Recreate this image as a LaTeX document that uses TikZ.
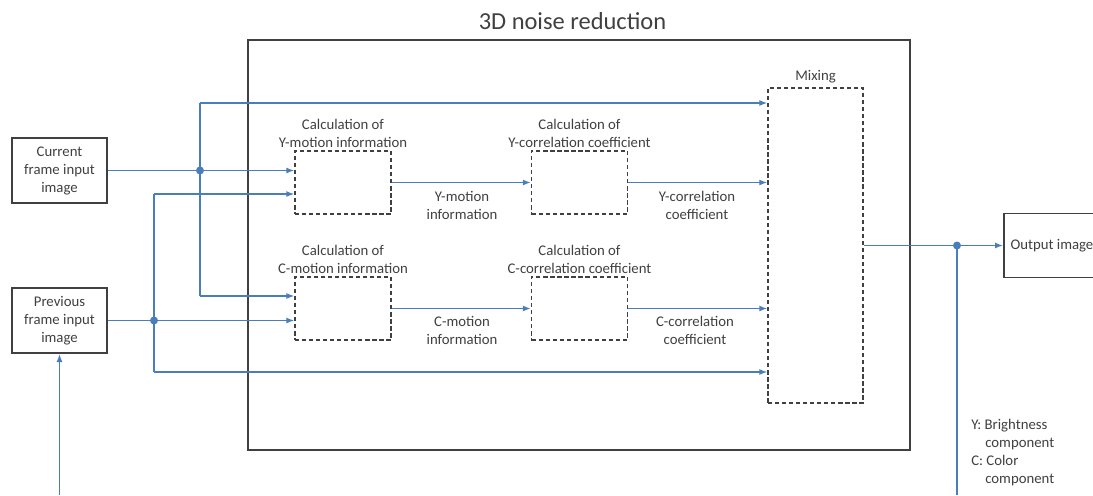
\documentclass[tikz,border=0pt]{standalone}
\usepackage{fontspec}
\setmainfont{Carlito}
\usetikzlibrary{arrows.meta,positioning}
\definecolor{lineblue}{RGB}{74,126,187}
\definecolor{boxgray}{RGB}{64,64,64}

\begin{document}
\begin{tikzpicture}[x=0.025cm, y=-0.025cm,
      every node/.style={text=boxgray, font=\fontsize{10.5}{12.8}\selectfont},
      inbox/.style={draw=boxgray, line width=1.4pt, minimum width=2.375cm, minimum height=1.625cm, align=center, inner sep=0pt},
      calcbox/.style={draw=boxgray, line width=1pt, dash pattern=on 3pt off 2pt, minimum width=2.4cm, minimum height=1.575cm, inner sep=0pt},
      lbl/.style={align=center, inner sep=0pt},
      arr/.style={draw=lineblue, line width=0.9pt, -{Latex[length=2mm,width=1.5mm]}},
      wire/.style={draw=lineblue, line width=0.9pt}]
            \useasboundingbox (0,0) rectangle (1093,495);
            \node[inner sep=0pt] (title) at (572.5,21) {\fontsize{17.4}{21}\selectfont 3D noise reduction};
            \node[draw=boxgray, line width=1.8pt, minimum width=16.55cm, minimum height=10.25cm, inner sep=0pt] (nr) at (579,245) {};
            \node[inbox] (cur) at (59.5,170.5) {Current\\frame input\\image};
            \node[inbox] (prev) at (59.5,320.5) {Previous\\frame input\\image};
            \node[calcbox] (ymot) at (343,182.5) {};
            \node[calcbox] (cmot) at (343,308.5) {};
            \node[calcbox] (ycor) at (579.5,182.5) {};
            \node[calcbox] (ccor) at (579.5,308.5) {};
            \node[calcbox, minimum width=2.375cm, minimum height=7.875cm] (mix) at (815.5,245.5) {};
            \node[inbox, minimum width=2.4cm, minimum height=1.6cm, anchor=west] (out) at (1003,245.5) {Output image};
            \node[lbl, above=0.06cm of ymot] (ymotlbl) {Calculation of\\Y-motion information};
            \node[lbl, above=0.06cm of cmot] (cmotlbl) {Calculation of\\C-motion information};
            \node[lbl, above=0.06cm of ycor] (ycorlbl) {Calculation of\\Y-correlation coefficient};
            \node[lbl, above=0.06cm of ccor] (ccorlbl) {Calculation of\\C-correlation coefficient};
            \node[lbl, above=0.1cm of mix] (mixlbl) {Mixing};
            \node[lbl] (ymotinfo) at (462,205) {Y-motion\\information};
            \node[lbl] (ycorinfo) at (697,205) {Y-correlation\\coefficient};
            \node[lbl] (cmotinfo) at (462,330) {C-motion\\information};
            \node[lbl] (ccorinfo) at (695,330) {C-correlation\\coefficient};
            \node[lbl, align=left, anchor=north west] (legend) at (971,419) {Y: Brightness\\\hspace{0.95em}component\\C: Color\\\hspace{0.95em}component};
            \coordinate (jcur) at (200,170.5);
            \coordinate (ytop) at (200,103);
            \coordinate (cin) at (200,296);
            \coordinate (jprev) at (154,320.5);
            \coordinate (pup) at (154,194);
            \coordinate (pdown) at (154,372);
            \coordinate (pin) at (59.5,495);
            \coordinate (jout) at (957,245.5);
            \coordinate (outdown) at (957,495);
            \draw[arr] (cur.east) -- (cur.east -| ymot.west);
            \draw[wire] (ytop) -- (cin);
            \draw[arr] (ytop) -- (ytop -| mix.west);
            \draw[arr] (cin) -- (cin -| cmot.west);
            \draw[arr] (prev.east) -- (prev.east -| cmot.west);
            \draw[wire] (pup) -- (pdown);
            \draw[arr] (pup) -- (pup -| ymot.west);
            \draw[arr] (pdown) -- (pdown -| mix.west);
            \draw[arr] (pin) -- (prev.south);
            \draw[arr] (ymot.east) -- (ycor.west);
            \draw[arr] (ycor.east) -- (ycor.east -| mix.west);
            \draw[arr] (cmot.east) -- (ccor.west);
            \draw[arr] (ccor.east) -- (ccor.east -| mix.west);
            \draw[arr] (mix.east) -- (out.west);
            \draw[wire] (jout) -- (outdown);
            \fill[lineblue] (jcur) circle [radius=0.1cm];
            \fill[lineblue] (jprev) circle [radius=0.1cm];
            \fill[lineblue] (jout) circle [radius=0.1cm];
      \end{tikzpicture}
\end{document}
